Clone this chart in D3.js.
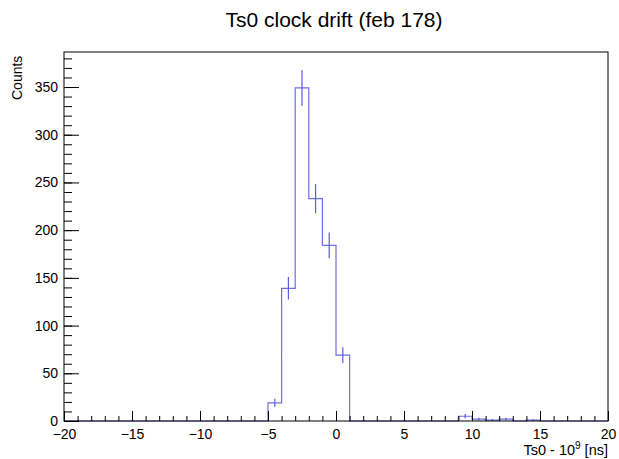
<!DOCTYPE html>
<html><head><meta charset="utf-8">
<script src="https://cdn.jsdelivr.net/npm/d3@7"></script>
<style>body{margin:0;background:#fff}svg{display:block;font-family:"Liberation Sans",Arial,Helvetica,sans-serif}</style>
</head><body>
<script>
const title = "Ts0 clock drift (feb 178)";
const binLow = [-5, -4, -3, -2, -1, 0, 9, 10, 11, 12, 13, 14];
const counts = [19, 139, 349, 233, 184, 69, 5, 2, 1, 2, 0, 1];
const xMajorTicks = [-20, -15, -10, -5, 0, 5, 10, 15, 20];
const yMajorTicks = [0, 50, 100, 150, 200, 250, 300, 350];
const xDomain = [-20, 20];
const yMax = 386.7;

const W = 619, H = 459;
const L = 64, R = 608, T = 52, B = 421;
const svg = d3.select("body").append("svg").attr("width", W).attr("height", H);
const x = d3.scaleLinear().domain(xDomain).range([L, R]);
const y = d3.scaleLinear().domain([0, yMax]).range([B, T]);

// full histogram (1-unit bins)
const full = d3.range(xDomain[0], xDomain[1]).map(lo => {
  const i = binLow.indexOf(lo);
  return {lo, v: i >= 0 ? counts[i] : 0};
});
let pts = [];
full.forEach(b => { pts.push([b.lo, b.v]); pts.push([b.lo + 1, b.v]); });
pts = [[xDomain[0], 0], ...pts, [xDomain[1], 0]];
const line = d3.line().x(d => x(d[0])).y(d => y(d[1]));
svg.append("path").attr("d", line(pts)).attr("fill", "none")
  .attr("stroke", "#6f6fe3").attr("stroke-width", 1.2);

// error bars
svg.append("g").selectAll("line").data(binLow.map((lo, i) => ({lo, v: counts[i]})).filter(d => d.v > 0))
  .join("line")
  .attr("x1", d => x(d.lo + 0.5)).attr("x2", d => x(d.lo + 0.5))
  .attr("y1", d => y(d.v + Math.sqrt(d.v))).attr("y2", d => y(Math.max(0, d.v - Math.sqrt(d.v))))
  .attr("stroke", "#5a5ade").attr("stroke-width", 1.2);

// frame
svg.append("rect").attr("x", L).attr("y", T).attr("width", R - L).attr("height", B - T)
  .attr("fill", "none").attr("stroke", "#000").attr("stroke-width", 1);

// x axis
svg.append("g").attr("transform", `translate(0,${B})`)
  .call(d3.axisBottom(x).tickValues(d3.range(-20, 21, 1)).tickSize(-5).tickFormat(""));
const xMaj = svg.append("g").attr("transform", `translate(0,${B})`)
  .call(d3.axisBottom(x).tickValues(xMajorTicks).tickSize(-10).tickPadding(5));
xMaj.selectAll("text").attr("font-size", 14).attr("fill", "#000").attr("dy", "0.95em")
  .attr("font-family", "Liberation Sans, Arial, sans-serif");
// y axis
svg.append("g").attr("transform", `translate(${L},0)`)
  .call(d3.axisLeft(y).tickValues(d3.range(0, 381, 10)).tickSize(-8).tickFormat(""));
const yMaj = svg.append("g").attr("transform", `translate(${L},0)`)
  .call(d3.axisLeft(y).tickValues(yMajorTicks).tickSize(-15).tickPadding(6));
yMaj.selectAll("text").attr("font-size", 14).attr("fill", "#000")
  .attr("font-family", "Liberation Sans, Arial, sans-serif");
svg.selectAll(".domain").remove();
svg.selectAll(".tick line").attr("stroke", "#000").attr("stroke-width", 1);

// titles
svg.append("text").attr("x", 334).attr("y", 27).attr("text-anchor", "middle")
  .attr("font-size", 21).attr("fill", "#000").text(title);
svg.append("text").attr("transform", "translate(22,100) rotate(-90)")
  .attr("font-size", 14).attr("fill", "#000").text("Counts");
const xl = svg.append("text").attr("x", R).attr("y", 455).attr("text-anchor", "end")
  .attr("font-size", 14.5).attr("fill", "#000");
xl.append("tspan").text("Ts0 - 10");
xl.append("tspan").attr("dy", -6).attr("font-size", 10).text("9");
xl.append("tspan").attr("dy", 6).text(" [ns]");
</script>
</body></html>
